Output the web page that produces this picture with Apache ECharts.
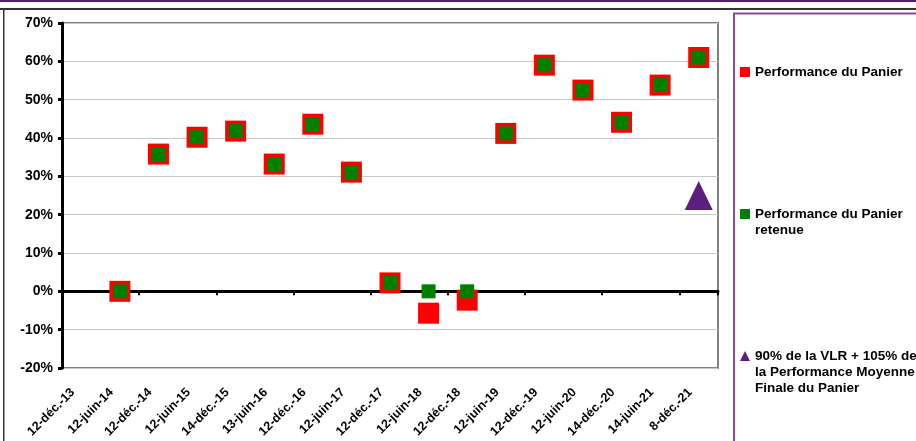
<!DOCTYPE html>
<html>
<head>
<meta charset="utf-8">
<script src="https://cdn.jsdelivr.net/npm/echarts@6/dist/echarts.min.js"></script>
<style>
  html, body { margin: 0; padding: 0; background: #fff; }
  #chart { width: 916px; height: 441px; }
</style>
</head>
<body>
<div id="chart"></div>
<script>
// dates de constatation
var dates = ['12-déc.-13', '12-juin-14', '12-déc.-14', '12-juin-15', '14-déc.-15', '13-juin-16',
  '12-déc.-16', '12-juin-17', '12-déc.-17', '12-juin-18', '12-déc.-18', '12-juin-19',
  '12-déc.-19', '12-juin-20', '14-déc.-20', '14-juin-21', '8-déc.-21'];

// valeurs en %
var perfPanier = ['-', 0, 35.8, 40.2, 41.8, 33.2, 43.6, 31.1, 2.2, -5.7, -2.3, 41.2, 59.0, 52.5, 44.1, 53.8, 61.0];
var perfRetenue = ['-', 0, 35.8, 40.2, 41.8, 33.2, 43.6, 31.1, 2.2, 0, 0, 41.2, 59.0, 52.5, 44.1, 53.8, 61.0];
var perfFinale = ['-', '-', '-', '-', '-', '-', '-', '-', '-', '-', '-', '-', '-', '-', '-', '-', 25.0];

var nomPanier = 'Performance du Panier';
var nomRetenue = 'Performance du Panier\nretenue';
var nomFinale = '90% de la VLR + 105% de\nla Performance Moyenne\nFinale du Panier';

var font = 'Liberation Sans, Arial, sans-serif';
var legendFont = 'bold 13.5px Liberation Sans, Arial, sans-serif';
var lineH = 16.5;

var chart = echarts.init(document.getElementById('chart'));

// un bloc de légende par série, calé sur la première ligne du libellé
function legendItem(name, y, icon) {
    return {
        data: [{ name: name, icon: icon }],
        orient: 'vertical',
        left: 740,
        top: y - 5,
        padding: 0,
        itemWidth: 10,
        itemHeight: 10,
        selectedMode: false,
        formatter: function (n) { return n.split('\n')[0]; },
        textStyle: {
            fontFamily: font,
            fontWeight: 'bold',
            fontSize: 13.5,
            color: '#000'
        }
    };
}

// lignes suivantes des libellés de légende
function legendLines(name, y) {
    return name.split('\n').slice(1).map(function (t, i) {
        return {
            type: 'text', silent: true,
            style: { text: t, x: 755, y: y + 1.5 + (i + 1) * lineH, font: legendFont, fill: '#000', verticalAlign: 'middle' }
        };
    });
}

var legendY = [70, 212, 354];

var option = {
    backgroundColor: '#fff',
    animation: false,
    grid: {
        left: 62, top: 23, right: 198, bottom: 73,
        show: true,
        borderColor: '#808080',
        borderWidth: 2
    },
    legend: [
        legendItem(nomPanier, legendY[0], 'rect'),
        legendItem(nomRetenue, legendY[1], 'rect'),
        legendItem(nomFinale, legendY[2], 'triangle')
    ],
    xAxis: [{
        type: 'category',
        data: dates,
        boundaryGap: true,
        axisLine: { onZero: true, lineStyle: { color: '#000', width: 3 } },
        axisTick: { show: true, length: 4, lineStyle: { color: '#000', width: 2 } },
        axisLabel: { show: false },
        splitLine: { show: false }
    }, {
        type: 'category',
        data: dates,
        position: 'bottom',
        boundaryGap: true,
        axisLine: { show: false, onZero: false },
        axisTick: { show: false },
        axisLabel: {
            rotate: 45,
            interval: 0,
            margin: 14,
            padding: [0, 12, 0, 0],
            fontFamily: font,
            fontWeight: 'bold',
            fontSize: 12.5,
            color: '#000'
        }
    }],
    yAxis: {
        type: 'value',
        min: -20,
        max: 70,
        interval: 10,
        axisLine: { show: true, onZero: false, lineStyle: { color: '#000', width: 3 } },
        axisTick: { show: true, length: 4, lineStyle: { color: '#000', width: 3 } },
        axisLabel: {
            formatter: '{value}%',
            margin: 9,
            fontFamily: font,
            fontWeight: 'bold',
            fontSize: 14,
            color: '#000'
        },
        splitLine: { show: true, lineStyle: { color: '#c8c8c8', width: 1 } }
    },
    series: [{
        name: nomPanier,
        type: 'scatter',
        symbol: 'rect',
        symbolSize: 21,
        itemStyle: { color: '#ff0000', opacity: 1 },
        data: perfPanier,
        z: 2
    }, {
        name: nomRetenue,
        type: 'scatter',
        symbol: 'rect',
        symbolSize: 14,
        itemStyle: { color: '#008000', opacity: 1 },
        data: perfRetenue,
        z: 3
    }, {
        name: nomFinale,
        type: 'scatter',
        symbol: 'triangle',
        symbolSize: [28, 29],
        itemStyle: { color: '#5c1f80', opacity: 1 },
        data: perfFinale,
        z: 3
    }],
    graphic: [
        { type: 'rect', silent: true, shape: { x: 0, y: 0, width: 916, height: 2 }, style: { fill: '#5a1a72' } },
        { type: 'rect', silent: true, shape: { x: 0, y: 8, width: 916, height: 2 }, style: { fill: '#333' } },
        { type: 'rect', silent: true, shape: { x: 3, y: 9, width: 1.5, height: 432 }, style: { fill: '#333' } },
        { type: 'rect', silent: true, shape: { x: 734, y: 13.5, width: 200, height: 440 },
          style: { fill: 'none', stroke: '#8a4aa0', lineWidth: 2 } }
    ].concat(legendLines(nomRetenue, legendY[1]), legendLines(nomFinale, legendY[2]))
};

chart.setOption(option);
</script>
</body>
</html>
